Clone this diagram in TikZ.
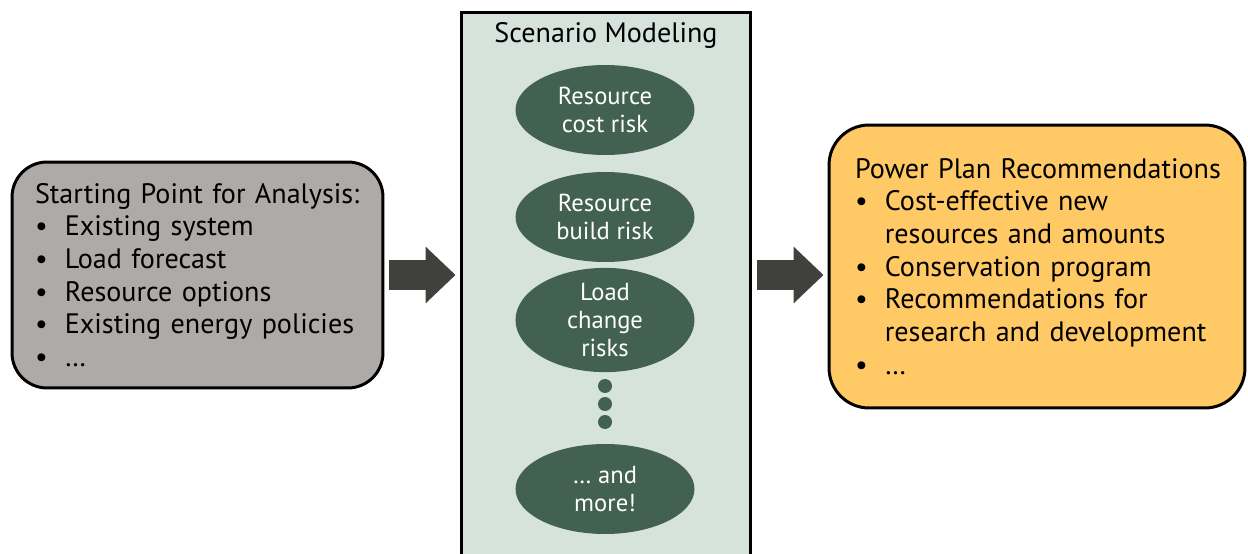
\documentclass[tikz,border=0pt]{standalone}
\usepackage{fontspec}
\setmainfont{PT Sans}
\usepackage{tikz}
\usetikzlibrary{arrows.meta,shapes.geometric,positioning}

\definecolor{boxgray}{RGB}{173,170,168}
\definecolor{scenfill}{RGB}{214,227,221}
\definecolor{riskgreen}{RGB}{67,97,81}
\definecolor{planfill}{RGB}{255,201,102}
\definecolor{arrowgray}{RGB}{64,64,60}

\newcommand{\bul}{\makebox[17pt][l]{\textbullet}}

\begin{document}
\begin{tikzpicture}
[x=0.02cm,y=-0.02cm,
	 startbox/.style={draw=black,line width=1.7pt,fill=boxgray,rounded corners=0.7cm,
	   minimum width=7.42cm,minimum height=4.52cm,inner xsep=0.46cm,text width=6.5cm,align=left,
	   font=\fontsize{16}{18.6}\selectfont},
	 planbox/.style={startbox,fill=planfill,rounded corners=0.8cm,
	   minimum width=8.32cm,minimum height=5.66cm,inner xsep=0.52cm,text width=7.28cm},
	 scenbox/.style={draw=black,line width=1.7pt,fill=scenfill,minimum width=5.8cm,minimum height=11.16cm},
	 risk/.style={ellipse,fill=riskgreen,text=white,minimum width=3.58cm,minimum height=1.8cm,
	   inner sep=0pt,align=center,font=\fontsize{14}{16}\selectfont},
	 dot/.style={circle,fill=riskgreen,minimum size=0.28cm,inner sep=0pt},
	 bigarrow/.style={-{Triangle[length=0.6cm,width=1.1cm]},line width=0.6cm,arrowgray,
	   shorten <=0.1cm,shorten >=0.08cm}]
\useasboundingbox (0,0) rectangle (1248,554);

\node[startbox] (start) at (197.5,275) {Starting Point for Analysis:\\
\bul Existing system\\
\bul Load forecast\\
\bul Resource options\\
\bul Existing energy policies\\
\bul \dots};

\node[scenbox] (scen) at (606,291) {};
\node[below=0.12cm of scen.north,font=\fontsize{16}{18.6}\selectfont] (scentitle) {Scenario Modeling};

\node[risk] (costrisk) at (605,110) {Resource\\cost risk};
\node[risk] (buildrisk) at (605,217) {Resource\\build risk};
\node[risk] (loadrisk) at (605,320) {Load\\change\\risks};
\node[dot] (dota) at (605,386) {};
\node[dot] (dotb) at (605,404) {};
\node[dot] (dotc) at (605,422) {};
\node[risk] (morerisk) at (605,489) {\dots{} and\\more!};

\node[planbox] (plan) at (1037,266.5) {\mbox{Power Plan Recommendations}\\
\bul Cost-effective new\\
\hspace*{17pt}resources and amounts\\
\bul Conservation program\\
\bul Recommendations for\\
\hspace*{17pt}research and development\\
\bul \dots};

\draw[bigarrow] (start.east) -- (start.east -| scen.west);
\draw[bigarrow] (scen.east |- start.east) -- (start.east -| plan.west);

\end{tikzpicture}
\end{document}
